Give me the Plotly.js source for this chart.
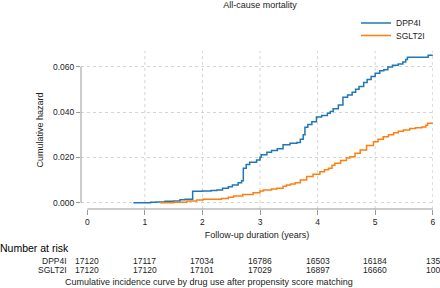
<!DOCTYPE html>
<html>
<head>
<meta charset="utf-8">
<script src="https://cdn.plot.ly/plotly-3.0.1.min.js"></script>
<style>
html,body{margin:0;padding:0;background:#fff;}
#chart{width:440px;height:288px;}
</style>
</head>
<body>
<div id="chart"></div>
<script>
// ---- Data ----
var dppTime = [0.80,1.10,1.20,1.35,1.50,1.61,1.70,1.83,2.00,2.15,2.25,2.35,2.45,2.52,2.62,2.68,2.71,2.76,2.82,2.94,3.00,3.02,3.12,3.20,3.30,3.40,3.52,3.64,3.70,3.75,3.78,3.83,3.90,3.98,4.07,4.17,4.22,4.27,4.36,4.44,4.52,4.60,4.66,4.72,4.80,4.86,4.93,5.00,5.08,5.15,5.22,5.30,5.40,5.48,5.53,5.56,5.92,6.00];
var dppHaz  = [0,0.0002,0.0003,0.0006,0.0008,0.0013,0.0015,0.0050,0.0052,0.0054,0.0056,0.0064,0.0070,0.0078,0.0088,0.0097,0.0152,0.0168,0.0178,0.0188,0.0200,0.0212,0.0222,0.0230,0.0238,0.0256,0.0262,0.0266,0.0280,0.0300,0.0333,0.0345,0.0357,0.0378,0.0385,0.0394,0.0402,0.0414,0.0431,0.0465,0.0475,0.0487,0.0500,0.0512,0.0530,0.0543,0.0556,0.0571,0.0582,0.0586,0.0598,0.0606,0.0612,0.0620,0.0632,0.0641,0.0650,0.0650];

var sgltTime = [1.26,1.50,1.73,1.90,2.01,2.33,2.45,2.54,2.70,2.88,3.00,3.06,3.20,3.29,3.40,3.46,3.53,3.61,3.70,3.81,3.92,4.04,4.12,4.19,4.25,4.30,4.40,4.50,4.56,4.65,4.74,4.85,4.97,5.05,5.14,5.23,5.32,5.40,5.49,5.60,5.70,5.81,5.88,5.91,6.00];
var sgltHaz  = [0,0.0002,0.0007,0.0012,0.0015,0.0018,0.0024,0.0030,0.0036,0.0044,0.0052,0.0056,0.0060,0.0064,0.0072,0.0078,0.0083,0.0088,0.0100,0.0115,0.0126,0.0137,0.0145,0.0152,0.0165,0.0174,0.0186,0.0197,0.0203,0.0218,0.0232,0.0252,0.0269,0.0280,0.0291,0.0300,0.0309,0.0315,0.0321,0.0327,0.0330,0.0334,0.0342,0.0350,0.0350];

var xTicks = [0,1,2,3,4,5,6];
var yTicks = [0,0.02,0.04,0.06];
var riskTimes = [0,1,2,3,4,5,6];
var dppRisk  = ["17120","17117","17034","16786","16503","16184","135"];
var sgltRisk = ["17120","17120","17101","17029","16897","16660","100"];
var seriesNames = ["DPP4I","SGLT2I"];

// ---- Styling ----
var FONT = "Liberation Sans, Arial, Helvetica, sans-serif";
var TXT = "#222222";
var AXC = "#999999";
var GRID = "#d4d4d4";
var BLUE = "#1f77b4";
var ORANGE = "#ff7f0e";

var traces = [
  {x: dppTime, y: dppHaz, type: "scatter", mode: "lines", name: seriesNames[0],
   line: {color: BLUE, width: 1.5, shape: "hv"}, legend: "legend"},
  {x: sgltTime, y: sgltHaz, type: "scatter", mode: "lines", name: seriesNames[1],
   line: {color: ORANGE, width: 1.5, shape: "hv"}, legend: "legend2"}
];

var shapes = [];
// vertical dotted grid lines (not at 0)
xTicks.forEach(function(t){
  if (t === 0) return;
  shapes.push({type: "line", xref: "x", yref: "paper", x0: t, x1: t, y0: 0, y1: 1,
    line: {color: GRID, width: 1, dash: "dot"}, layer: "below"});
});
// y axis line over tick range
shapes.push({type: "line", xref: "paper", yref: "y", x0: 0, x1: 0,
  y0: yTicks[0], y1: yTicks[yTicks.length-1], line: {color: AXC, width: 1}});
// x axis line over tick range
shapes.push({type: "line", xref: "x", yref: "paper", x0: xTicks[0], x1: xTicks[xTicks.length-1],
  y0: 0, y1: 0, line: {color: AXC, width: 1}});

var annotations = [];
function pyToPaper(py){ return (209 - py) / 158; }
annotations.push({text: "Number at risk", xref: "paper", yref: "paper",
  x: -83/352, y: pyToPaper(248), xanchor: "left", yanchor: "middle", showarrow: false,
  font: {family: FONT, size: 10.5, color: "#000"}});
annotations.push({text: seriesNames[0], xref: "paper", yref: "paper",
  x: (69-81)/352, y: pyToPaper(260.5), xanchor: "right", yanchor: "middle", showarrow: false,
  font: {family: FONT, size: 8.5, color: TXT}});
annotations.push({text: seriesNames[1], xref: "paper", yref: "paper",
  x: (69-81)/352, y: pyToPaper(270), xanchor: "right", yanchor: "middle", showarrow: false,
  font: {family: FONT, size: 8.5, color: TXT}});
riskTimes.forEach(function(t, i){
  annotations.push({text: dppRisk[i], xref: "x", yref: "paper", x: t, y: pyToPaper(260.5),
    xanchor: "center", yanchor: "middle", showarrow: false,
    font: {family: FONT, size: 8.5, color: TXT}});
  annotations.push({text: sgltRisk[i], xref: "x", yref: "paper", x: t, y: pyToPaper(270),
    xanchor: "center", yanchor: "middle", showarrow: false,
    font: {family: FONT, size: 8.5, color: TXT}});
});
annotations.push({text: "Cumulative incidence curve by drug use after propensity score matching",
  xref: "paper", yref: "paper", x: (208.5-81)/352, y: pyToPaper(281.5),
  xanchor: "center", yanchor: "middle", showarrow: false,
  font: {family: FONT, size: 9, color: TXT}});

var legendBase = {
  xref: "paper", yref: "paper", xanchor: "left", yanchor: "middle",
  bgcolor: "rgba(0,0,0,0)", borderwidth: 0,
  font: {family: FONT, size: 8.5, color: TXT}
};
var legend1 = Object.assign({}, legendBase, {x: (356-81)/352, y: pyToPaper(23)});
var legend2 = Object.assign({}, legendBase, {x: (356-81)/352, y: pyToPaper(35.5)});

var layout = {
  width: 440, height: 288,
  margin: {l: 81, r: 7, t: 51, b: 79, pad: 0},
  paper_bgcolor: "#ffffff", plot_bgcolor: "#ffffff",
  font: {family: FONT, size: 8.5, color: TXT},
  title: {text: "All-cause mortality", font: {family: FONT, size: 9, color: TXT},
    x: 260/440, xanchor: "center", y: 1 - 4.5/288, yanchor: "middle", xref: "container", yref: "container"},
  xaxis: {
    range: [-0.109, 6.004], tickvals: xTicks, ticktext: xTicks.map(String),
    ticks: "outside", ticklen: 5, tickcolor: AXC, tickwidth: 1,
    showgrid: false, zeroline: false, showline: false,
    tickfont: {family: FONT, size: 8.5, color: TXT},
    title: {text: "Follow-up duration (years)", font: {family: FONT, size: 9, color: TXT}, standoff: 5},
    automargin: false, fixedrange: true
  },
  yaxis: {
    range: [-0.00278, 0.0669], tickvals: yTicks, tickformat: ".3f",
    ticks: "outside", ticklen: 4, tickcolor: AXC, tickwidth: 1,
    showgrid: true, gridcolor: GRID, griddash: "dot", gridwidth: 1,
    zeroline: false, showline: false,
    tickfont: {family: FONT, size: 8.5, color: TXT},
    title: {text: "Cumulative hazard", font: {family: FONT, size: 9, color: TXT}, standoff: 7},
    automargin: false, fixedrange: true
  },
  showlegend: true,
  legend: legend1,
  legend2: legend2,
  shapes: shapes,
  annotations: annotations
};

Plotly.newPlot("chart", traces, layout, {displayModeBar: false, staticPlot: true});
</script>
</body>
</html>
